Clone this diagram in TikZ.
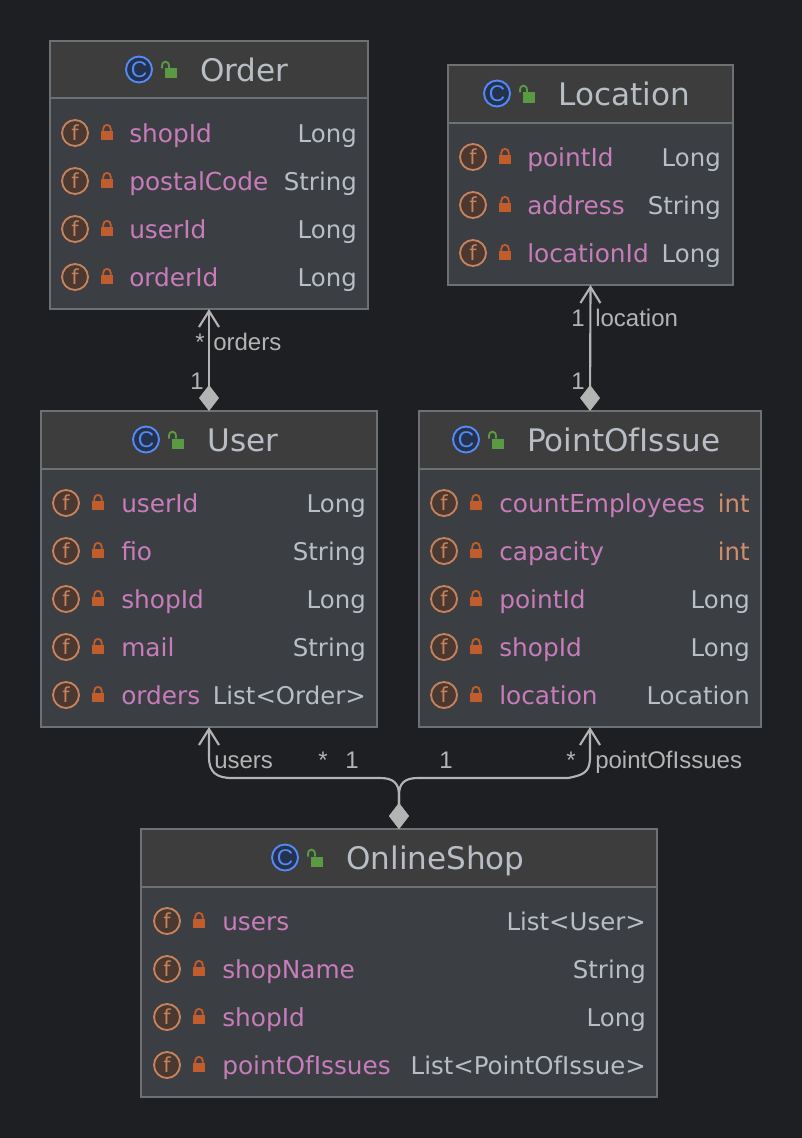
\documentclass[tikz,border=0pt]{standalone}
\usepackage{fontspec}
\setmainfont{DejaVu Sans}
\newfontfamily\edgefont{Liberation Sans}
\usetikzlibrary{arrows.meta}
\definecolor{bgc}{HTML}{1E1F22}
\definecolor{bodyc}{HTML}{3B3E42}
\definecolor{headc}{HTML}{3D3D3D}
\definecolor{borderc}{HTML}{6E7174}
\definecolor{textc}{HTML}{B9BEC6}
\definecolor{fieldc}{HTML}{C77DBB}
\definecolor{intc}{HTML}{CF8E6D}
\definecolor{linec}{HTML}{B4B4B4}
\definecolor{fring}{HTML}{C5825C}
\definecolor{ffill}{HTML}{4A3831}
\definecolor{lockc}{HTML}{C15C2C}
\definecolor{cring}{HTML}{548AF7}
\definecolor{cfill}{HTML}{25324D}
\definecolor{openc}{HTML}{5A9A42}
\tikzset{
  x=0.75pt,y=-0.75pt,
  classbox/.style={draw=borderc,line width=1.1pt,fill=bodyc,inner sep=0pt,outer sep=0pt},
  titletext/.style={anchor=base west,inner sep=0pt,text=textc,font=\fontsize{23.3}{24}\selectfont},
  nametext/.style={anchor=base west,inner sep=0pt,text=fieldc,font=\fontsize{18.6}{20}\selectfont},
  typetext/.style={anchor=base east,inner sep=0pt,text=#1,font=\fontsize{18.3}{20}\selectfont},
  edgetext/.style={inner sep=0pt,text=linec,font=\edgefont\fontsize{18}{20}\selectfont},
  ficon/.style={circle,draw=fring,fill=ffill,line width=1.4pt,minimum size=19.5pt,inner sep=0pt,text=fring,font=\fontsize{15.5}{15}\selectfont},
  cicon/.style={circle,draw=cring,fill=cfill,line width=1.4pt,minimum size=19.5pt,inner sep=0pt,text=cring,font=\edgefont\fontsize{17}{17}\selectfont},
  assoc/.style={draw=linec,line width=1.6pt,{Diamond[length=19.5pt,width=15pt,fill=linec]}-{Straight Barb[length=12pt,width=15pt]}},
}
% name, x1, y1, x2, y2, header line y, class icon x, title x, title
\newcommand{\classbox}[9]{%
  \pgfmathsetmacro{\bw}{(#4-#2)*0.75}%
  \pgfmathsetmacro{\bh}{(#5-#3)*0.75}%
  \pgfmathsetmacro{\bcx}{(#2+#4)/2}%
  \pgfmathsetmacro{\bcy}{(#3+#5)/2}%
  \node[classbox,minimum width=\bw pt,minimum height=\bh pt] (#1) at (\bcx,\bcy) {};
  \fill[headc] (#2+1,#3+1) rectangle (#4-1,#6);
  \draw[borderc,line width=1.1pt] (#2,#6) -- (#4,#6);
  \pgfmathsetmacro{\ty}{#3+40.5}%
  \pgfmathsetmacro{\iy}{#3+28.5}%
  \node[cicon] (#1C) at (#7,\iy) {C};
  \begin{scope}[shift={(#7+31,\iy)}]
    \fill[openc] (-5,-1) rectangle (7,9);
    \draw[openc,line width=1.4pt] (-8,-1) -- (-8,-3) .. controls (-8,-9.5) and (-1,-9.5) .. (-1,-3) -- (-1,-1);
  \end{scope}
  \node[titletext] (#1T) at (#8,\ty) {#9};
}
% id, icon x, lock x, name x, right x, row y, name, type, type colour
\newcommand{\fieldrow}[9]{%
  \node[ficon] (#1f) at (#2,#6) {f};
  \begin{scope}[shift={(#3,#6)}]
    \fill[lockc] (-6,-2) rectangle (6,7);
    \draw[lockc,line width=1.4pt] (-3.8,-2) -- (-3.8,-4) .. controls (-3.8,-9.5) and (3.8,-9.5) .. (3.8,-4) -- (3.8,-2);
  \end{scope}
  \node[nametext] (#1n) at (#4,#6+9) {#7};
  \node[typetext=#9] (#1t) at (#5+1,#6+9) {#8};
}
\begin{document}
\begin{tikzpicture}
\useasboundingbox (0,0) rectangle (802,1138);
\fill[bgc] (0,0) rectangle (802,1138);

\classbox{Order}{50}{41}{368}{309}{98}{139}{200}{Order}
\fieldrow{oa}{75}{107}{129}{356}{133}{shopId}{Long}{textc}
\fieldrow{ob}{75}{107}{129}{356}{181}{postalCode}{String}{textc}
\fieldrow{oc}{75}{107}{129}{356}{229}{userId}{Long}{textc}
\fieldrow{od}{75}{107}{129}{356}{277}{orderId}{Long}{textc}

\classbox{Location}{448}{65}{733}{285}{123}{497}{558}{Location}
\fieldrow{la}{473}{505}{527}{720}{157}{pointId}{Long}{textc}
\fieldrow{lb}{473}{505}{527}{720}{205}{address}{String}{textc}
\fieldrow{lc}{473}{505}{527}{720}{253}{locationId}{Long}{textc}

\classbox{User}{41}{411}{377}{727}{469}{146}{207}{User}
\fieldrow{ua}{66}{98}{121}{365}{503}{userId}{Long}{textc}
\fieldrow{ub}{66}{98}{121}{365}{551}{fio}{String}{textc}
\fieldrow{uc}{66}{98}{121}{365}{599}{shopId}{Long}{textc}
\fieldrow{ud}{66}{98}{121}{365}{647}{mail}{String}{textc}
\fieldrow{ue}{66}{98}{121}{365}{695}{orders}{List<Order>}{textc}

\classbox{PointOfIssue}{419}{411}{761}{727}{469}{466}{527}{PointOfIssue}
\fieldrow{pa}{444}{476}{499}{749}{503}{countEmployees}{int}{intc}
\fieldrow{pb}{444}{476}{499}{749}{551}{capacity}{int}{intc}
\fieldrow{pc}{444}{476}{499}{749}{599}{pointId}{Long}{textc}
\fieldrow{pd}{444}{476}{499}{749}{647}{shopId}{Long}{textc}
\fieldrow{pe}{444}{476}{499}{749}{695}{location}{Location}{textc}

\classbox{OnlineShop}{141}{829}{657}{1097}{887}{285}{346}{OnlineShop}
\fieldrow{sa}{167}{199}{222}{645}{921}{users}{List<User>}{textc}
\fieldrow{sb}{167}{199}{222}{645}{969}{shopName}{String}{textc}
\fieldrow{sc}{167}{199}{222}{645}{1017}{shopId}{Long}{textc}
\fieldrow{sd}{167}{199}{222}{645}{1065}{pointOfIssues}{List<PointOfIssue>}{textc}

\draw[assoc] (User.north) -- (Order.south);
\draw[assoc] (PointOfIssue.north) -- (Location.south);
\draw[assoc] (OnlineShop.north) -- (399,795) .. controls (399,783) and (393,778) .. (380,778) -- (232,778) .. controls (216,778) and (209,772) .. (209,757) -- (User.south);
\draw[assoc] (OnlineShop.north) -- (399,795) .. controls (399,783) and (405,778) .. (418,778) -- (568,778) .. controls (584,775) and (590,772) .. (590,757) -- (PointOfIssue.south);

\node[edgetext,anchor=base west] (l1) at (213,350) {orders};
\node[edgetext,anchor=base] (l2) at (200,350) {*};
\node[edgetext,anchor=base] (l3) at (197,389) {1};
\node[edgetext,anchor=base west] (l4) at (595,326) {location};
\node[edgetext,anchor=base] (l5) at (578,326) {1};
\node[edgetext,anchor=base] (l6) at (578,389) {1};
\node[edgetext,anchor=base west] (l7) at (214,768) {users};
\node[edgetext,anchor=base] (l8) at (323,768) {*};
\node[edgetext,anchor=base] (l9) at (352,768) {1};
\node[edgetext,anchor=base] (l10) at (446,768) {1};
\node[edgetext,anchor=base] (l11) at (571,768) {*};
\node[edgetext,anchor=base west] (l12) at (595,768) {pointOfIssues};
\end{tikzpicture}
\end{document}
